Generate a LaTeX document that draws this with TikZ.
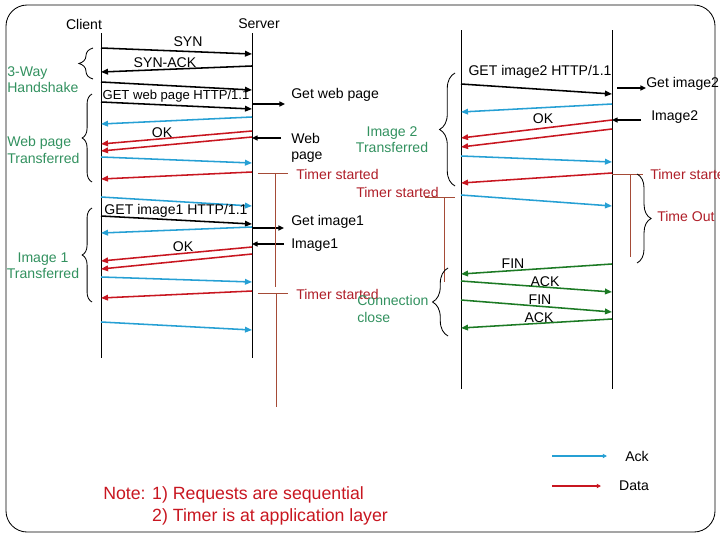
\documentclass[tikz,border=0pt]{standalone}
\usepackage{fontspec}
\setmainfont{Liberation Sans}
\usepackage{xcolor}
\usepackage{tikz}
\usetikzlibrary{
  arrows.meta,
  decorations.pathreplacing
}

\definecolor{ackblue}{RGB}{38,160,212}
\definecolor{datared}{RGB}{200,22,32}
\definecolor{fingreen}{RGB}{28,122,36}
\definecolor{grpgreen}{RGB}{50,145,95}
\definecolor{tmrred}{RGB}{175,30,40}
\definecolor{tmrbrown}{RGB}{165,75,55}

\begin{document}
\begin{tikzpicture}[x=0.025cm, y=-0.025cm, font=\fontsize{10}{11.5}\selectfont,
  life/.style={draw=black, line width=0.6pt},
  msg/.style={line width=1.1pt, -{Triangle[length=5pt, width=4pt]}},
  ctl/.style={msg, draw=black},
  ack/.style={msg, draw=ackblue},
  data/.style={msg, draw=datared},
  fin/.style={msg, draw=fingreen},
  app/.style={draw=black, line width=1.1pt, -{Triangle[length=4pt, width=3.5pt]}},
  timer/.style={draw=tmrbrown, line width=0.5pt},
  brc/.style={draw=black, line width=0.6pt, decorate, decoration={brace, amplitude=#1}},
  txt/.style={inner sep=0pt},
  grp/.style={inner sep=0pt, text=grpgreen, align=left},
  tmr/.style={inner sep=0pt, text=tmrred, anchor=west}]

  \useasboundingbox (0,0) rectangle (720,540);
  \draw[line width=0.6pt, rounded corners=15pt] (6,5) rectangle (715,532);

  % lifelines
  \coordinate (cl) at (101,33);  \coordinate (clend) at (101,358);
  \coordinate (sv) at (252,33);  \coordinate (svend) at (252,358);
  \coordinate (cl2) at (461,30); \coordinate (cl2end) at (461,389);
  \coordinate (sv2) at (612,30); \coordinate (sv2end) at (612,389);
  \draw[life] (cl) -- (clend);
  \draw[life] (sv) -- (svend);
  \draw[life] (cl2) -- (cl2end);
  \draw[life] (sv2) -- (sv2end);
  \node[txt] (client) at (84,24) {Client};
  \node[txt] (server) at (259,24) {Server};

  % handshake + web page
  \draw[ctl] (cl |- 0,48) -- (sv |- 0,54);
  \node[txt] (syn) at (188,42) {SYN};
  \draw[ctl] (sv |- 0,66) -- (cl |- 0,72);
  \node[txt] (synack) at (165,63) {SYN-ACK};
  \draw[ctl] (cl |- 0,82) -- (sv |- 0,90);
  \draw[ctl] (cl |- 0,102) -- (sv |- 0,109);
  \node[txt, font=\fontsize{9.3}{11}\selectfont] (getweb) at (176,96) {GET web page HTTP/1.1};
  \draw[ack] (sv |- 0,117) -- (cl |- 0,124);
  \draw[data] (sv |- 0,131) -- (cl |- 0,144);
  \draw[data] (sv |- 0,137) -- (cl |- 0,151);
  \node[txt] (okweb) at (162,133) {OK};
  \draw[ack] (cl |- 0,157) -- (sv |- 0,163);
  \draw[data] (sv |- 0,172) -- (cl |- 0,179);

  % image 1
  \draw[ack] (cl |- 0,197) -- (sv |- 0,206);
  \draw[ctl] (cl |- 0,216) -- (sv |- 0,224);
  \node[txt] (getimg1) at (176,211) {GET image1 HTTP/1.1};
  \draw[ack] (sv |- 0,227) -- (cl |- 0,233);
  \draw[data] (sv |- 0,247) -- (cl |- 0,261);
  \draw[data] (sv |- 0,254) -- (cl |- 0,269);
  \node[txt] (okimg1) at (183,247) {OK};
  \draw[ack] (cl |- 0,277) -- (sv |- 0,282);
  \draw[data] (sv |- 0,291) -- (cl |- 0,298);
  \draw[ack] (cl |- 0,322) -- (sv |- 0,330);

  % application side, first server
  \draw[app] (sv |- 0,104) -- ++(33,0);
  \node[txt, anchor=west] (appget) at (291,95) {Get web page};
  \draw[app] (sv |- 0,138) ++(29,0) -- (sv |- 0,138);
  \node[txt, anchor=west, align=left] (appweb) at (291,148) {Web\\page};
  \draw[app] (sv |- 0,228) -- ++(32,0);
  \node[txt, anchor=west] (appimg) at (291,222) {Get image1};
  \draw[app] (sv |- 0,244) ++(32,0) -- (sv |- 0,244);
  \node[txt, anchor=west] (appimgone) at (291,245) {Image1};

  % timers
  \draw[timer] (258,173) -- (288,173) (275,173) -- (275,287);
  \node[tmr] (tmra) at (296,174) {Timer started};
  \draw[timer] (258,293) -- (288,293) (276,293) -- (276,407);
  \node[tmr] (tmrb) at (296,294) {Timer started};
  \draw[timer] (425,197) -- (455,197) (444,197) -- (444,282);
  \node[tmr] (tmrc) at (356,192) {Timer started};
  \draw[timer] (sv2 |- 0,174) -- (643,174) (630,174) -- (630,257);
  \node[tmr] (tmrd) at (650,174) {Timer started};
  \draw[brc=10pt] (637,174) -- (637,263);
  \node[tmr] (tmout) at (657,216) {Time Out};

  % image 2
  \draw[ctl] (cl2 |- 0,84) -- (sv2 |- 0,94);
  \node[txt] (getimg2) at (540,72) {GET image2 HTTP/1.1};
  \draw[ack] (sv2 |- 0,104) -- (cl2 |- 0,112);
  \draw[data] (sv2 |- 0,120) -- (cl2 |- 0,138);
  \draw[data] (sv2 |- 0,129) -- (cl2 |- 0,147);
  \node[txt] (okimg2) at (543,119) {OK};
  \draw[ack] (cl2 |- 0,156) -- (sv2 |- 0,162);
  \draw[data] (sv2 |- 0,173) -- (cl2 |- 0,183);
  \draw[ack] (cl2 |- 0,195) -- (sv2 |- 0,206);
  \draw[app] (sv2 |- 0,88) ++(5,0) -- ++(29,0);
  \node[txt, anchor=west] (appgettwo) at (646,84) {Get image2};
  \draw[app] (sv2 |- 0,120) ++(29,0) -- (sv2 |- 0,120);
  \node[txt, anchor=west] (appimgtwo) at (651,117) {Image2};

  % connection close
  \draw[fin] (sv2 |- 0,264) -- (cl2 |- 0,274);
  \node[txt] (fina) at (513,264) {FIN};
  \draw[fin] (cl2 |- 0,281) -- (sv2 |- 0,292);
  \node[txt] (acka) at (545,282) {ACK};
  \draw[fin] (cl2 |- 0,300) -- (sv2 |- 0,312);
  \node[txt] (finb) at (540,300) {FIN};
  \draw[fin] (sv2 |- 0,319) -- (cl2 |- 0,328);
  \node[txt] (ackb) at (539,318) {ACK};

  % groups
  \draw[brc=10pt] (93,79) -- (93,48);
  \node[grp, anchor=west] (hshake) at (7,80) {3-Way\\Handshake};
  \draw[brc=7pt] (92,182) -- (92,94);
  \node[grp, anchor=west] (webgrp) at (7,150) {Web page\\Transferred};
  \draw[brc=7pt] (92,302) -- (92,208);
  \node[grp, align=center] (imggrp) at (43,266) {Image 1\\Transferred};
  \draw[brc=11pt] (455,186) -- (455,73);
  \node[grp, align=center] (imgtwogrp) at (392,140) {Image 2\\Transferred};
  \draw[brc=11pt] (448,336) -- (448,268);
  \node[grp, anchor=west] (closegrp) at (357,309) {Connection\\close};

  % legend
  \draw[ack, -{Triangle[length=3pt, width=3pt]}] (552,456) -- (607,456);
  \node[txt] (ackkey) at (637,456) {Ack};
  \draw[data, -{Triangle[length=3pt, width=3pt]}] (552,486) -- (601,486);
  \node[txt] (datakey) at (634,486) {Data};

  \node[inner sep=0pt, anchor=west, align=left, text=datared, font=\fontsize{12.6}{15.5}\selectfont] (note) at (103,506)
    {Note: 1) Requests are sequential\\\phantom{Note: }2) Timer is at application layer};
\end{tikzpicture}
\end{document}
